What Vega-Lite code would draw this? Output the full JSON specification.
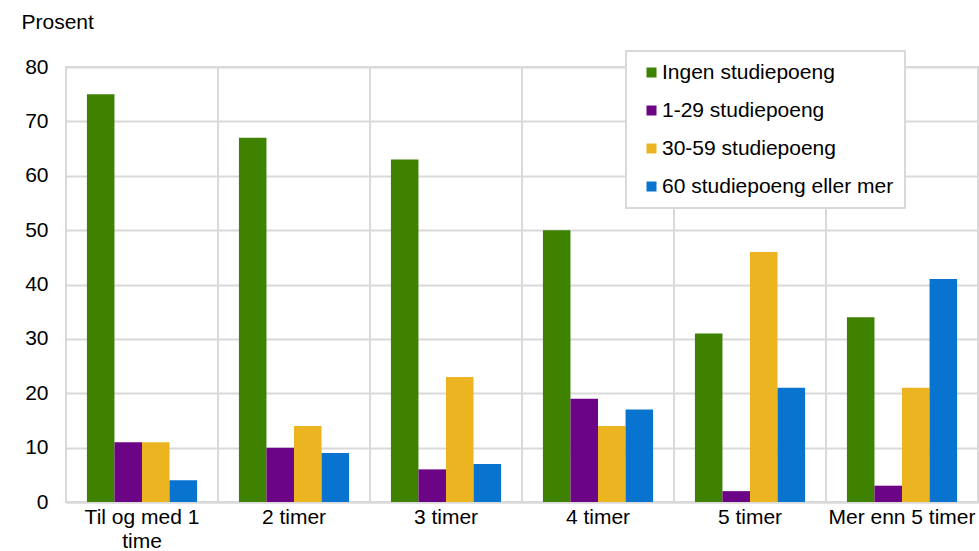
{
  "$schema": "https://vega.github.io/schema/vega-lite/v6.json",
  "width": 912,
  "height": 435,
  "autosize": {"type": "none"},
  "padding": {"left": 66, "top": 67, "right": 1, "bottom": 49},
  "config": {
    "font": "Liberation Sans",
    "view": {"stroke": "#d9d9d9", "strokeWidth": 2},
    "axis": {"labelFont": "Liberation Sans", "titleFont": "Liberation Sans", "labelColor": "#000000", "titleColor": "#000000"}
  },
  "data": {
    "values": [
      {"cat": "Til og med 1 time", "group": "Ingen studiepoeng", "value": 75},
      {"cat": "Til og med 1 time", "group": "1-29 studiepoeng", "value": 11},
      {"cat": "Til og med 1 time", "group": "30-59 studiepoeng", "value": 11},
      {"cat": "Til og med 1 time", "group": "60 studiepoeng eller mer", "value": 4},
      {"cat": "2 timer", "group": "Ingen studiepoeng", "value": 67},
      {"cat": "2 timer", "group": "1-29 studiepoeng", "value": 10},
      {"cat": "2 timer", "group": "30-59 studiepoeng", "value": 14},
      {"cat": "2 timer", "group": "60 studiepoeng eller mer", "value": 9},
      {"cat": "3 timer", "group": "Ingen studiepoeng", "value": 63},
      {"cat": "3 timer", "group": "1-29 studiepoeng", "value": 6},
      {"cat": "3 timer", "group": "30-59 studiepoeng", "value": 23},
      {"cat": "3 timer", "group": "60 studiepoeng eller mer", "value": 7},
      {"cat": "4 timer", "group": "Ingen studiepoeng", "value": 50},
      {"cat": "4 timer", "group": "1-29 studiepoeng", "value": 19},
      {"cat": "4 timer", "group": "30-59 studiepoeng", "value": 14},
      {"cat": "4 timer", "group": "60 studiepoeng eller mer", "value": 17},
      {"cat": "5 timer", "group": "Ingen studiepoeng", "value": 31},
      {"cat": "5 timer", "group": "1-29 studiepoeng", "value": 2},
      {"cat": "5 timer", "group": "30-59 studiepoeng", "value": 46},
      {"cat": "5 timer", "group": "60 studiepoeng eller mer", "value": 21},
      {"cat": "Mer enn 5 timer", "group": "Ingen studiepoeng", "value": 34},
      {"cat": "Mer enn 5 timer", "group": "1-29 studiepoeng", "value": 3},
      {"cat": "Mer enn 5 timer", "group": "30-59 studiepoeng", "value": 21},
      {"cat": "Mer enn 5 timer", "group": "60 studiepoeng eller mer", "value": 41}
    ]
  },
  "layer": [
    {
      "mark": {"type": "rule", "color": "#d9d9d9", "strokeWidth": 2},
      "encoding": {
        "x": {"field": "cat", "type": "nominal", "sort": null, "bandPosition": 0}
      }
    },
    {
      "mark": {"type": "bar"},
      "encoding": {
        "x": {
          "field": "cat", "type": "nominal", "sort": null,
          "scale": {"paddingInner": 0, "paddingOuter": 0},
          "axis": {
            "title": null, "labelAngle": 0, "labelAlign": "center", "labelFontSize": 21, "labelPadding": 15,
            "ticks": false, "grid": false, "domainColor": "#d9d9d9", "domainWidth": 2,
            "labelLineHeight": 24, "labelLimit": 300, "bandPosition": 0.5,
            "labelExpr": "datum.label == 'Til og med 1 time' ? ['Til og med 1', 'time'] : datum.label"
          }
        },
        "xOffset": {
          "field": "group", "type": "nominal",
          "sort": ["Ingen studiepoeng", "1-29 studiepoeng", "30-59 studiepoeng", "60 studiepoeng eller mer"],
          "scale": {"paddingInner": 0, "paddingOuter": 0.76}
        },
        "y": {
          "field": "value", "type": "quantitative",
          "scale": {"domain": [0, 80], "nice": false},
          "axis": {
            "values": [0, 10, 20, 30, 40, 50, 60, 70, 80],
            "title": "Prosent", "titleAngle": 0, "titleAlign": "left", "titleBaseline": "alphabetic",
            "titleX": -45, "titleY": -39, "titleFontSize": 21, "titleFontWeight": "normal",
            "labelFontSize": 21, "labelPadding": 18, "ticks": false, "domain": false,
            "grid": true, "gridColor": "#d9d9d9", "gridWidth": 2
          }
        },
        "color": {
          "field": "group", "type": "nominal",
          "scale": {
            "domain": ["Ingen studiepoeng", "1-29 studiepoeng", "30-59 studiepoeng", "60 studiepoeng eller mer"],
            "range": ["#3e8200", "#6b0585", "#ecb421", "#0874d0"]
          },
          "legend": {
            "title": null, "orient": "none", "legendX": 560, "legendY": -16,
            "direction": "vertical", "symbolType": "square", "symbolSize": 100,
            "symbolStrokeWidth": 0, "labelFontSize": 21, "labelFont": "Liberation Sans", "labelColor": "#000000",
            "labelOffset": 0, "rowPadding": 16, "padding": 11, "symbolOffset": 4,
            "fillColor": "#ffffff", "strokeColor": "#d9d9d9", "labelLimit": 400,
            "encode": {"legend": {"update": {"strokeWidth": {"value": 2}}}}
          }
        }
      }
    }
  ]
}
